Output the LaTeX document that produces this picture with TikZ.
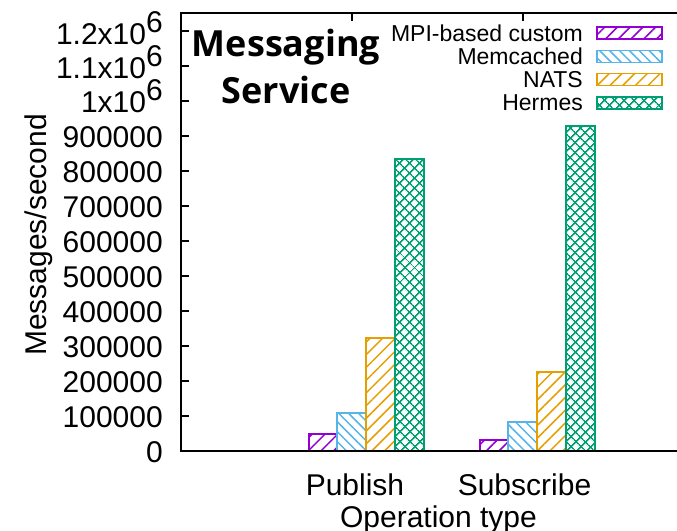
\documentclass[tikz,border=0pt]{standalone}
\usepackage{fontspec}
\setmainfont{Liberation Sans}
\newfontfamily\titlefont{Open Sans}
\usetikzlibrary{patterns.meta}
\definecolor{cpurple}{HTML}{9400D3}
\definecolor{cblue}{HTML}{56B4E9}
\definecolor{corange}{HTML}{E69F00}
\definecolor{cgreen}{HTML}{009E73}
\newcommand\expsix[1]{#1x10\raisebox{12pt}{6}}
\begin{document}
\begin{tikzpicture}[x=1pt,y=-1pt,
  axisline/.style={line width=2pt,black},
  ticklab/.style={anchor=base east,inner sep=0pt,font=\fontsize{30}{36}\selectfont},
  axlab/.style={inner sep=0pt,font=\fontsize{30}{36}\selectfont},
  leglab/.style={anchor=base east,inner sep=0pt,font=\fontsize{23}{27}\selectfont},
  mpibar/.style={draw=cpurple,line width=1.8pt,pattern={Lines[angle=45,distance=9pt,line width=1.5pt]},pattern color=cpurple},
  memcbar/.style={draw=cblue,line width=1.8pt,pattern={Lines[angle=-45,distance=7pt,line width=1.5pt]},pattern color=cblue},
  natsbar/.style={draw=corange,line width=1.8pt,pattern={Lines[angle=45,distance=9pt,line width=1.5pt]},pattern color=corange},
  hermbar/.style={draw=cgreen,line width=1.8pt,pattern={Hatch[angle=45,distance=6.9pt,line width=1.6pt]},pattern color=cgreen},
  titlestyle/.style={inner sep=0pt,anchor=base,font=\titlefont\bfseries\fontsize{36}{40}\selectfont}
]
\useasboundingbox (0,0) rectangle (677,530);

% bars: Publish
\draw[mpibar]  (309,451) rectangle (337,434);
\draw[memcbar] (337,451) rectangle (366,413);
\draw[natsbar] (366,451) rectangle (395,338);
\draw[hermbar] (395,451) rectangle (424,159);
% bars: Subscribe
\draw[mpibar]  (480,451) rectangle (508,440);
\draw[memcbar] (508,451) rectangle (537,422);
\draw[natsbar] (537,451) rectangle (566,372);
\draw[hermbar] (566,451) rectangle (595,126);

% axes frame
\draw[axisline] (677,13) -- (181,13) -- (181,451) -- (677,451);
% y ticks
\foreach \k in {1,...,12} \draw[axisline] (181,{451-35*\k}) -- ++(8,0);
% top x ticks
\draw[axisline] (352,13) -- ++(0,8);
\draw[axisline] (523,13) -- ++(0,8);

% y tick labels
\foreach \k/\lab in {0/0,1/100000,2/200000,3/300000,4/400000,5/500000,6/600000,7/700000,8/800000,9/900000}
  \node[ticklab] (yl\k) at (163,{462-35*\k}) {\lab};
\node[ticklab] (yl10) at (163,{462-350}) {\expsix{1}};
\node[ticklab] (yl11) at (163,{463-385}) {\expsix{1.1}};
\node[ticklab] (yl12) at (163,{464-420}) {\expsix{1.2}};

% axis labels
\node[axlab,rotate=90] (ylabel) at (39,235) {Messages/second};
\node[axlab,anchor=base] (xpub) at (355,495) {Publish};
\node[axlab,anchor=base] (xsub) at (524.5,495) {Subscribe};
\node[axlab,anchor=base] (xlabel) at (438.5,527) {Operation type};

% title
\node[titlestyle] (title1) at (286,56) {Messaging};
\node[titlestyle] (title2) at (286,103) {Service};

% legend
\node[leglab] (lg1) at (583,41) {MPI-based custom};
\node[leglab] (lg2) at (583,64) {Memcached};
\node[leglab] (lg3) at (583,87) {NATS};
\node[leglab] (lg4) at (583,110) {Hermes};
\draw[mpibar]  (597,27) rectangle (662,39);
\draw[memcbar] (597,50.5) rectangle (662,62.5);
\draw[natsbar] (597,73.5) rectangle (662,85.5);
\draw[hermbar] (597,97) rectangle (662,109);
\end{tikzpicture}
\end{document}
